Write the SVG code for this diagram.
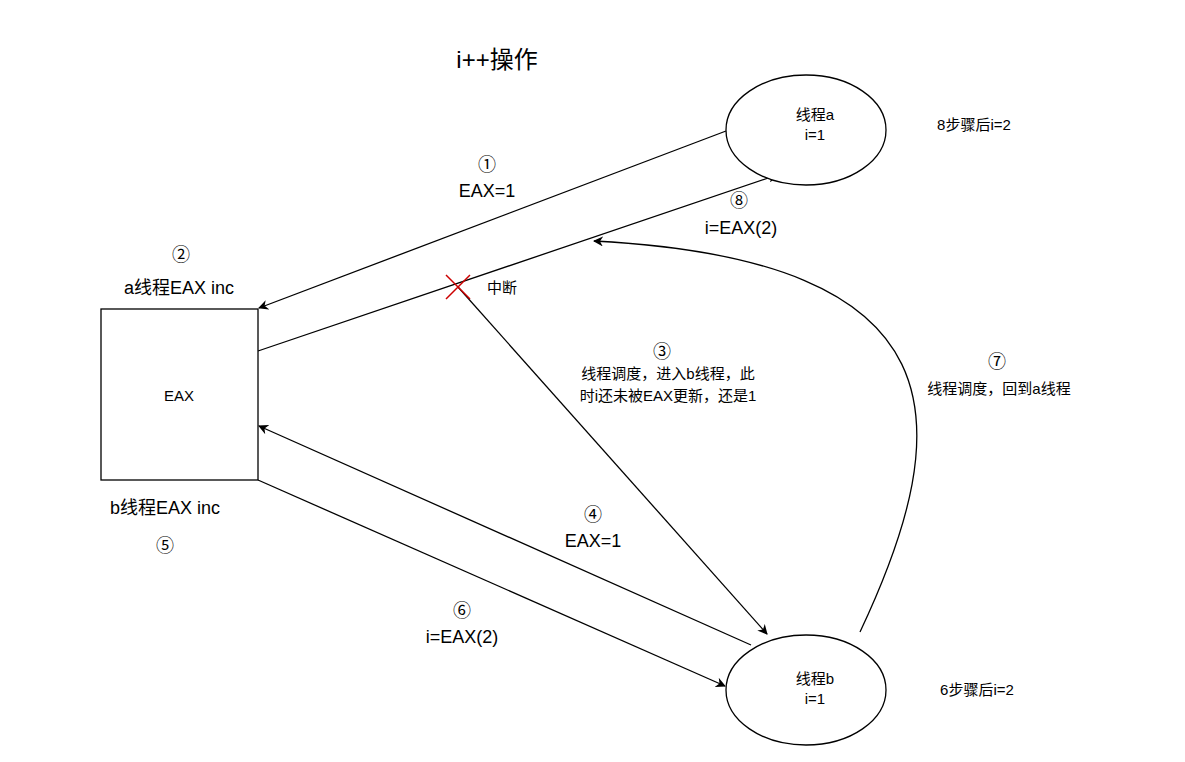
<svg xmlns="http://www.w3.org/2000/svg" width="1185" height="762" viewBox="0 0 1185 762">
<style>
text{font-family:"Liberation Sans","Noto Sans CJK SC",sans-serif;text-anchor:middle;fill:#000}
.l{font-size:18px}.s{font-size:15px}
.e{fill:#fff;stroke:#000;stroke-width:1.3}
.c{fill:none;stroke:#000;stroke-width:1.3}
</style>
<defs><marker id="a" viewBox="0 0 10 10" refX="9" refY="5" markerWidth="10" markerHeight="10" orient="auto" markerUnits="userSpaceOnUse"><path d="M0,0L10,5L0,10L3,5z" fill="#000"/></marker></defs>
<rect width="1185" height="762" fill="#fff"/>
<text x="497" y="68" style="font-size:24px">i++操作</text>
<g id="connectors">
<path class="c" d="M726,131L259,308" marker-end="url(#a)"/>
<path class="c" d="M258,351L777,175" marker-end="url(#a)"/>
<path class="c" d="M458,287L767,634" marker-end="url(#a)"/>
<path class="c" d="M751,645L259,426" marker-end="url(#a)"/>
<path class="c" d="M258,480L725,686" marker-end="url(#a)"/>
<path class="c" d="M860,632C960,420 960,260 594,241" marker-end="url(#a)"/>
<path d="M446,275L470,299M470,275L446,299" stroke="#c00" stroke-width="1.5"/>
</g>
<g id="nodeA"><ellipse class="e" cx="806" cy="130" rx="80" ry="55"/><text class="s" x="815" y="120">线程a</text><text class="s" x="815" y="140">i=1</text></g>
<g id="nodeB"><ellipse class="e" cx="806" cy="690" rx="80" ry="55"/><text class="s" x="815" y="684">线程b</text><text class="s" x="815" y="704">i=1</text></g>
<g id="eax"><rect class="e" x="101" y="309" width="157" height="171"/><text class="s" x="179" y="401">EAX</text></g>
<g class="labels">
<text class="s" x="974" y="130">8步骤后i=2</text>
<text class="s" x="977" y="695">6步骤后i=2</text>
<text class="l" x="487" y="171">①</text><text class="l" x="487" y="197">EAX=1</text>
<text class="l" x="739" y="207">⑧</text><text class="l" x="741" y="234">i=EAX(2)</text>
<text class="s" x="502" y="293">中断</text>
<text class="l" x="662" y="358">③</text><text class="s" x="668" y="379">线程调度，进入b线程，此</text><text class="s" x="668" y="401">时i还未被EAX更新，还是1</text>
<text class="l" x="593" y="521">④</text><text class="l" x="593" y="547">EAX=1</text>
<text class="l" x="462" y="617">⑥</text><text class="l" x="462" y="643">i=EAX(2)</text>
<text class="l" x="997" y="368">⑦</text><text class="s" x="999" y="394">线程调度，回到a线程</text>
<text class="l" x="181" y="261">②</text><text class="l" x="179" y="294">a线程EAX  inc</text>
<text class="l" x="165" y="514">b线程EAX  inc</text><text class="l" x="165" y="552">⑤</text>
</g>
</svg>
